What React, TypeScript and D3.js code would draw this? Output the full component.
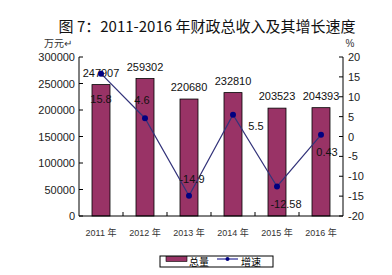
import React from "react";
import * as d3 from "d3";

const categories = ["2011 年", "2012 年", "2013 年", "2014 年", "2015 年", "2016 年"];
const totals = [247907, 259302, 220680, 232810, 203523, 204393];
const growth = [15.8, 4.6, -14.9, 5.5, -12.58, 0.43];
const growthLabels = ["15.8", "4.6", "-14.9", "5.5", "-12.58", "0.43"];
const leftTicks = [0, 50000, 100000, 150000, 200000, 250000, 300000];
const rightTicks = [-20, -15, -10, -5, 0, 5, 10, 15, 20];
// label offsets relative to point (dx, dy)
const growthLabelOffsets: [number, number][] = [
  [0, 25], [-3, -18], [3, -17], [23, 11], [9, 17], [6, 17],
];

const W = 392, H = 275;
const L = 79, R = 343, T = 57, B = 216;
const FONT = "'Liberation Sans', Arial, 'Noto Sans CJK SC', sans-serif";

export default function App() {
  const x = d3.scaleBand().domain(categories).range([L, R]).paddingInner(0).paddingOuter(0);
  const yL = d3.scaleLinear().domain([0, 300000]).range([B, T]);
  const yR = d3.scaleLinear().domain([-20, 20]).range([B, T]);
  const barW = 18;
  const line = d3.line<number>()
    .x((_, i) => x(categories[i])! + x.bandwidth() / 2)
    .y((d) => yR(d));

  return (
    <svg width={W} height={H} style={{ position: "absolute", left: 0, top: 0, background: "#fff" }} fontFamily={FONT}>
      <rect x={0} y={0} width={W} height={H} fill="#fff" />
      <text x={207} y={32} textAnchor="middle" fontSize={15} fill="#111" fontFamily="'Noto Sans CJK SC', sans-serif">
        图 7：2011-2016 年财政总收入及其增长速度
      </text>
      <text x={58} y={47} textAnchor="middle" fontSize={10} fill="#333" fontFamily="'Noto Sans CJK SC', sans-serif">万元↵</text>
      <text x={350} y={47} textAnchor="middle" fontSize={10} fill="#333">%</text>

      {/* bars */}
      {totals.map((v, i) => {
        const cx = x(categories[i])! + x.bandwidth() / 2;
        return (
          <g key={i}>
            <rect x={cx - barW / 2} y={yL(v)} width={barW} height={B - yL(v)} fill="#993366" stroke="#000" strokeWidth={0.8} />
            <text x={cx} y={yL(v) - 8} textAnchor="middle" fontSize={11} fill="#111">{v}</text>
          </g>
        );
      })}

      {/* axes */}
      <line x1={L} y1={T} x2={L} y2={B} stroke="#000" strokeWidth={1} />
      <line x1={R} y1={T} x2={R} y2={B} stroke="#000" strokeWidth={1} />
      <line x1={L} y1={B} x2={R} y2={B} stroke="#000" strokeWidth={1} />
      {leftTicks.map((t) => (
        <g key={"l" + t}>
          <line x1={L} x2={L + 4} y1={yL(t)} y2={yL(t)} stroke="#000" />
          <text x={L - 4} y={yL(t) + 4} textAnchor="end" fontSize={11} fill="#222">{t}</text>
        </g>
      ))}
      {rightTicks.map((t) => (
        <g key={"r" + t}>
          <line x1={R - 4} x2={R} y1={yR(t)} y2={yR(t)} stroke="#000" />
          <text x={R + 5} y={yR(t) + 4} textAnchor="start" fontSize={11} fill="#222">{t}</text>
        </g>
      ))}
      {categories.slice(1).map((c) => (
        <line key={"xt" + c} x1={x(c)!} x2={x(c)!} y1={B} y2={B - 4} stroke="#000" />
      ))}
      {categories.map((c) => (
        <text key={"xl" + c} x={x(c)! + x.bandwidth() / 2} y={236} textAnchor="middle" fontSize={9} fill="#333" fontFamily="'Liberation Sans', 'Noto Sans CJK SC', sans-serif">{c}</text>
      ))}

      {/* growth line */}
      <path d={line(growth)!} fill="none" stroke="#33337a" strokeWidth={1.2} />
      {growth.map((g, i) => {
        const cx = x(categories[i])! + x.bandwidth() / 2;
        const cy = yR(g);
        const [dx, dy] = growthLabelOffsets[i];
        return (
          <g key={"g" + i}>
            <circle cx={cx} cy={cy} r={3} fill="#000080" />
            <text x={cx + dx} y={cy + dy + 4} textAnchor="middle" fontSize={11} fill="#111">{growthLabels[i]}</text>
          </g>
        );
      })}

      {/* legend */}
      <rect x={160} y={256} width={113} height={11} fill="#fff" stroke="#000" strokeWidth={1} />
      <rect x={166} y={256.5} width={21} height={5} fill="#993366" stroke="#000" strokeWidth={0.6} />
      <text x={189} y={266} fontSize={10} fill="#000" fontFamily="'Noto Sans CJK SC', sans-serif">总量</text>
      <line x1={217} x2={238} y1={259} y2={259} stroke="#000080" strokeWidth={1} />
      <circle cx={227.5} cy={259} r={2} fill="#000080" />
      <text x={241} y={266} fontSize={10} fill="#000" fontFamily="'Noto Sans CJK SC', sans-serif">增速</text>
    </svg>
  );
}
